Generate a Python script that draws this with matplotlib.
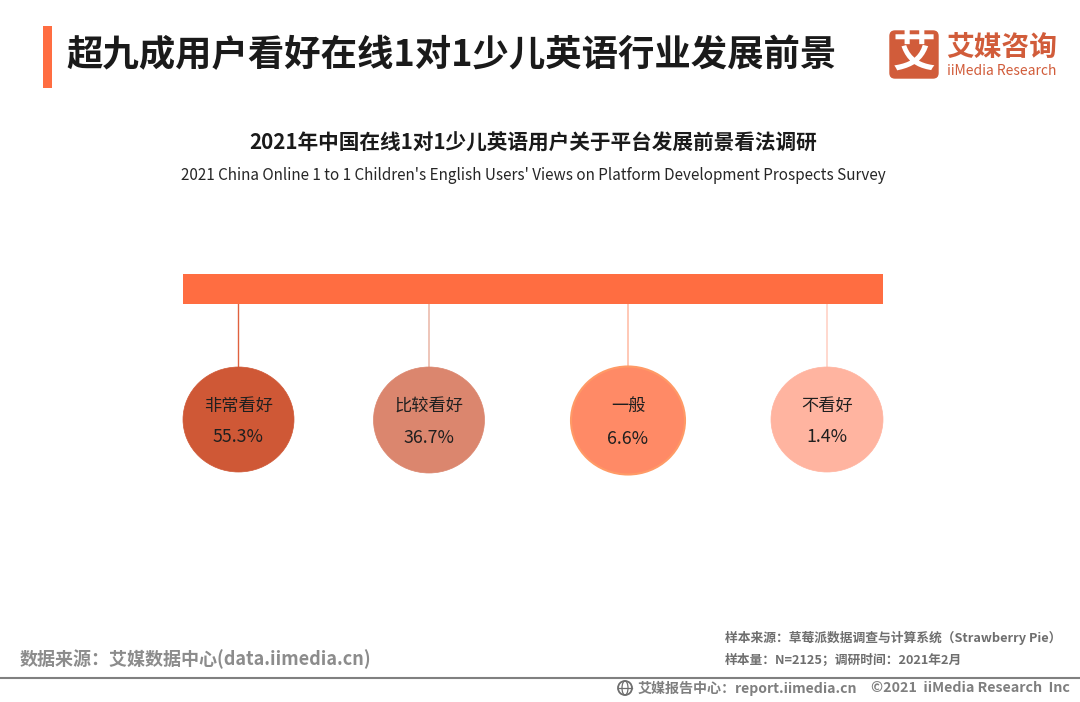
import matplotlib
matplotlib.use("Agg")
import matplotlib.pyplot as plt
from matplotlib.patches import Circle, Ellipse, FancyBboxPatch, Rectangle

plt.rcParams["font.family"] = ["Noto Sans CJK SC", "DejaVu Sans"]

categories = ["非常看好", "比较看好", "一般", "不看好"]
shares = [55.3, 36.7, 6.6, 1.4]

# layout in image pixels
center_x = [238.5, 429, 628, 827]
center_y = [419.5, 420, 420.5, 419.5]
widths = [111, 111, 114, 112]
heights = [105, 106, 108, 105]
fills = ["#CF5836", "#DB866E", "#FF8A66", "#FFB4A0"]
edges = ["#CF5836", "#DB866E", "#FF9A66", "#FFB4A0"]
stems = ["#E0613F", "#EDC0B3", "#FFC4B0", "#FFD5CA"]
stem_widths = [1.0, 1.3, 1.3, 1.3]

ORANGE = "#FF6D41"
LOGO = "#D15C3A"

fig = plt.figure(figsize=(10.8, 7.02), dpi=100)
ax = fig.add_axes([0, 0, 1, 1])
ax.set_xlim(0, 1080)
ax.set_ylim(702, 0)
ax.axis("off")

# header
ax.add_patch(Rectangle((43, 26), 9, 62, color=ORANGE, lw=0))
ax.text(66.5, 56, "超九成用户看好在线1对1少儿英语行业发展前景", fontsize=26.2,
        fontweight="bold", color="#1A1A1A", va="center", ha="left")

# logo
ax.add_patch(FancyBboxPatch((890, 31), 48, 47, boxstyle="round,pad=0,rounding_size=5",
                            fc=LOGO, ec=LOGO, lw=1))
ax.text(914, 54, "艾", fontsize=31, fontweight="bold", color="white", ha="center", va="center")
ax.text(1002, 48, "艾媒咨询", fontsize=20, fontweight="bold", color=LOGO, ha="center", va="center")
ax.text(1002, 71, "iiMedia Research", fontsize=10, fontweight="medium", color=LOGO,
        ha="center", va="center")

# titles
ax.text(533.5, 143, "2021年中国在线1对1少儿英语用户关于平台发展前景看法调研", fontsize=14.87,
        fontweight="bold", color="#1A1A1A", ha="center", va="center")
ax.text(533.5, 175, "2021 China Online 1 to 1 Children's English Users' Views on Platform Development Prospects Survey",
        fontsize=10.97, color="#262626", ha="center", va="center")

# top band, stems, circles
ax.add_patch(Rectangle((183, 274), 700, 30, color=ORANGE, lw=0, zorder=3))
for i, (name, share) in enumerate(zip(categories, shares)):
    x, y = center_x[i], center_y[i]
    ax.plot([x - 0.5, x - 0.5], [304, y - heights[i] / 2], color=stems[i], lw=stem_widths[i], zorder=1)
    ax.add_patch(Ellipse((x, y), widths[i], heights[i], fc=fills[i], ec=edges[i],
                         lw=1.5 if i == 2 else 0.5, zorder=2))
    ax.text(x, y - 13.5, name, fontsize=12.4, color="#1F1F1F", ha="center", va="center", zorder=4)
    ax.text(x, y + 18, f"{share}%", fontsize=12.8, color="#1F1F1F", ha="center", va="center", zorder=4)

# footer
ax.text(20, 659, "数据来源：艾媒数据中心(data.iimedia.cn)", fontsize=13, fontweight="bold",
        color="#8C8C8C", ha="left", va="center")
ax.text(725, 638, "样本来源：草莓派数据调查与计算系统（Strawberry Pie）", fontsize=9.2,
        fontweight="bold", color="#6E6E6E", ha="left", va="center")
ax.text(725, 660, "样本量：N=2125；调研时间：2021年2月", fontsize=9.2,
        fontweight="bold", color="#6E6E6E", ha="left", va="center")
ax.plot([0, 1080], [678, 678], color="#808080", lw=1.5)

# globe icon
ax.add_patch(Circle((625, 688), 7, fc="none", ec="#6E6E6E", lw=1.3))
ax.add_patch(Ellipse((625, 688), 6, 14, fc="none", ec="#6E6E6E", lw=0.9))
ax.plot([618, 632], [688, 688], color="#6E6E6E", lw=0.9)
ax.text(638, 688, "艾媒报告中心：report.iimedia.cn", fontsize=10.1, fontweight="bold",
        color="#7F7F7F", ha="left", va="center")
ax.text(871, 688, "©2021  iiMedia Research  Inc", fontsize=10.25, fontweight="bold",
        color="#7F7F7F", ha="left", va="center")

fig.savefig("out.png", dpi=100, facecolor="white")
plt.close(fig)
